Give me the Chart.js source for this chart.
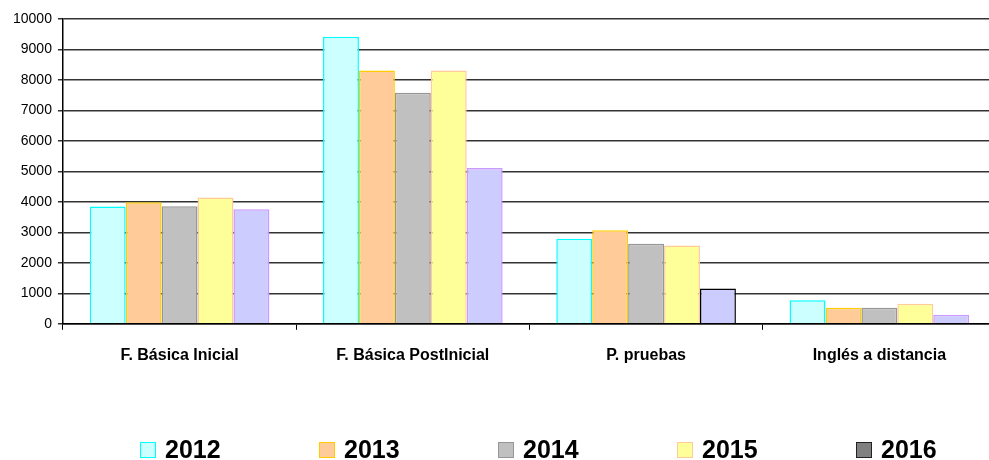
<!DOCTYPE html>
<html>
<head>
<meta charset="utf-8">
<script src="https://cdn.jsdelivr.net/npm/chart.js@4/dist/chart.umd.min.js"></script>
<style>
  html, body { margin: 0; padding: 0; background: #fff; overflow: hidden; }
  #wrap { position: relative; width: 1000px; height: 460px; }
  #chart { display: block; }
  #legend { position: absolute; left: 0; top: 0; width: 1000px; height: 460px; pointer-events: none; }
  .item { position: absolute; top: 437px; height: 25px; display: flex; align-items: center;
          font: bold 25px "Liberation Sans", Arial, sans-serif; color: #000; }
  .box { width: 16px; height: 16px; box-sizing: border-box; border: 1.5px solid; margin-right: 9px; }
</style>
</head>
<body>
<div id="wrap">
  <canvas id="chart" width="1000" height="460"></canvas>
  <div id="legend"></div>
</div>
<script>
const categories = ["F. Básica Inicial", "F. Básica PostInicial", "P. pruebas", "Inglés a distancia"];
const years = ["2012", "2013", "2014", "2015", "2016"];

const v2012 = [3850, 9420, 2790, 770];
const v2013 = [3990, 8310, 3070, 530];
const v2014 = [3860, 7580, 2630, 530];
const v2015 = [4140, 8310, 2570, 660];
const v2016 = [3760, 5110, 1160, 300];

const yTicks = [0, 1000, 2000, 3000, 4000, 5000, 6000, 7000, 8000, 9000, 10000];

// bar fills / borders per year
const fills = ["#CCFFFF", "#FFCC99", "#C0C0C0", "#FFFF99", "#CCCCFF"];
const borders = ["#00FFFF", "#FFCC00", "#969696", "#FFCC99", "#CC99FF"];
// 2016 is drawn differently in the legend and on the P. pruebas bar
const border2016 = ["#CC99FF", "#CC99FF", "#000000", "#CC99FF"];
const legendFills = ["#CCFFFF", "#FFCC99", "#C0C0C0", "#FFFF99", "#808080"];
const legendBorders = ["#00FFFF", "#FFCC00", "#969696", "#FFCC99", "#222222"];

const values = [v2012, v2013, v2014, v2015, v2016];
const FONT = '"Liberation Sans", Arial, sans-serif';

const datasets = years.map((y, i) => ({
  label: y,
  data: values[i],
  backgroundColor: fills[i],
  borderColor: i === 4 ? border2016 : borders[i],
  borderWidth: 1.5,
  borderSkipped: "bottom",
  categoryPercentage: 0.77,
  barPercentage: 1
}));

new Chart("chart", {
  type: "bar",
  data: { labels: categories, datasets: datasets },
  options: {
    responsive: false,
    animation: false,
    layout: { padding: { left: 7, right: 4, top: 19, bottom: 79 } },
    plugins: { legend: { display: false }, tooltip: { enabled: false } },
    scales: {
      x: {
        grid: { offset: true, drawOnChartArea: false, drawTicks: true, tickLength: 6, color: "#000" },
        border: { color: "#000", width: 1.5 },
        ticks: { color: "#000", padding: 16, font: { family: FONT, size: 16, weight: "bold" } }
      },
      y: {
        min: 0,
        max: 10000,
        afterBuildTicks: s => { s.ticks = yTicks.map(v => ({ value: v })); },
        grid: { color: "#333", lineWidth: 1.5, tickLength: 5 },
        border: { color: "#000", width: 1.5 },
        ticks: { color: "#000", padding: 6, font: { family: FONT, size: 14 }, callback: v => String(v) }
      }
    }
  }
});

// legend row under the chart
const legend = document.getElementById("legend");
years.forEach((y, i) => {
  const item = document.createElement("div");
  item.className = "item";
  item.style.left = (140 + i * 179) + "px";
  const box = document.createElement("span");
  box.className = "box";
  box.style.background = legendFills[i];
  box.style.borderColor = legendBorders[i];
  item.appendChild(box);
  item.appendChild(document.createTextNode(y));
  legend.appendChild(item);
});
</script>
</body>
</html>
